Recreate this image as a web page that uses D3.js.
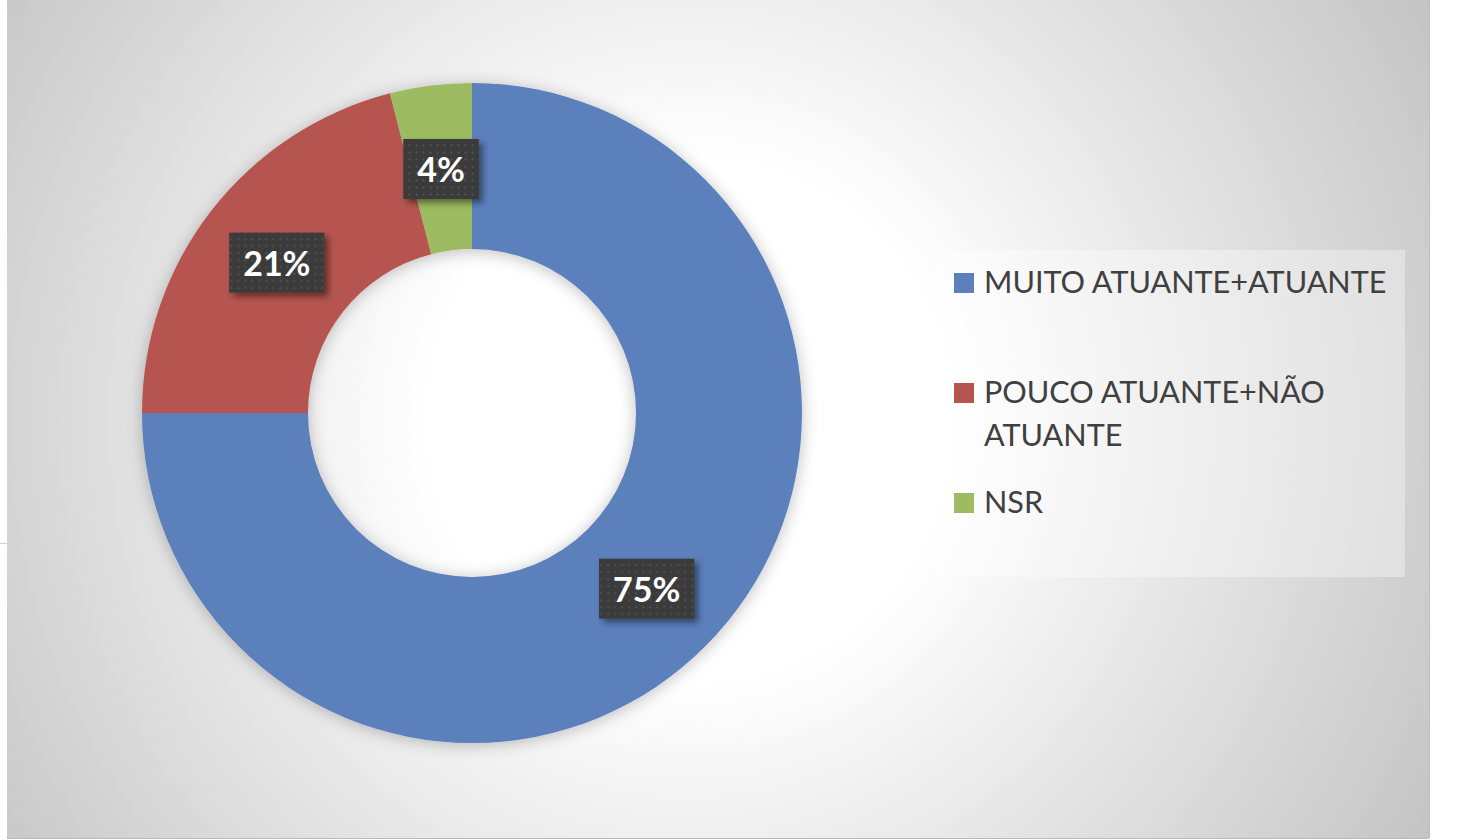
<!DOCTYPE html>
<html>
<head>
<meta charset="utf-8">
<script src="https://cdn.jsdelivr.net/npm/d3@7"></script>
<style>
  html, body { margin: 0; padding: 0; background: #fff; }
  svg { display: block; }
</style>
</head>
<body>
<svg id="chart"></svg>
<script>
var categories = ["MUITO ATUANTE+ATUANTE", "POUCO ATUANTE+NÃO ATUANTE", "NSR"]
var values = [75, 21, 4]
var labels = ["75%", "21%", "4%"]
var colors = ["#5b80bc", "#b6544f", "#9dbb61"]
// legend text broken into lines the way the reference wraps it
var legendLines = [["MUITO ATUANTE+ATUANTE"], ["POUCO ATUANTE+NÃO", "ATUANTE"], ["NSR"]]

var width = 1470
var height = 840
var cx = 472, cy = 413
var outerR = 330, innerR = 164

var svg = d3.select("#chart")
  .attr("width", width)
  .attr("height", height)

var defs = svg.append("defs")

var bg = defs.append("radialGradient")
  .attr("id", "bgGrad")
  .attr("gradientUnits", "userSpaceOnUse")
  .attr("cx", 690).attr("cy", 420).attr("r", 870)
bg.append("stop").attr("offset", "0").attr("stop-color", "#ffffff")
bg.append("stop").attr("offset", "0.3").attr("stop-color", "#ffffff")
bg.append("stop").attr("offset", "1").attr("stop-color", "#c2c2c2")

var shadow = defs.append("filter")
  .attr("id", "ringShadow")
  .attr("x", "-20%").attr("y", "-20%").attr("width", "140%").attr("height", "140%")
shadow.append("feDropShadow")
  .attr("dx", 0).attr("dy", 2)
  .attr("stdDeviation", 8)
  .attr("flood-color", "#000")
  .attr("flood-opacity", 0.25)

var boxShadow = defs.append("filter")
  .attr("id", "boxShadow")
  .attr("x", "-30%").attr("y", "-30%").attr("width", "160%").attr("height", "160%")
boxShadow.append("feDropShadow")
  .attr("dx", 4).attr("dy", 4)
  .attr("stdDeviation", 3)
  .attr("flood-color", "#000")
  .attr("flood-opacity", 0.45)

var dots = defs.append("pattern")
  .attr("id", "dots")
  .attr("patternUnits", "userSpaceOnUse")
  .attr("width", 7).attr("height", 7)
dots.append("rect").attr("width", 7).attr("height", 7).attr("fill", "#3a3a3a")
dots.append("circle").attr("cx", 3.5).attr("cy", 3.5).attr("r", 1).attr("fill", "#5a5a5a")

// chart area
svg.append("rect")
  .attr("x", 7).attr("y", 0)
  .attr("width", 1422).attr("height", 838)
  .attr("fill", "url(#bgGrad)")
svg.append("line")
  .attr("x1", 7).attr("x2", 1429).attr("y1", 838.5).attr("y2", 838.5)
  .attr("stroke", "#b8b8b8").attr("stroke-width", 1)
svg.append("line")
  .attr("x1", 1429.5).attr("x2", 1429.5).attr("y1", 0).attr("y2", 838)
  .attr("stroke", "#bdbdbd").attr("stroke-width", 1)
svg.append("line")
  .attr("x1", 0).attr("x2", 7).attr("y1", 543.5).attr("y2", 543.5)
  .attr("stroke", "#d0d0d0").attr("stroke-width", 1)

var pie = d3.pie().sort(null).value(function(d){ return d; })
var arc = d3.arc().innerRadius(innerR).outerRadius(outerR)
var arcs = pie(values)

var ring = svg.append("g")
  .attr("transform", "translate(" + cx + "," + cy + ")")

ring.append("g")
  .attr("filter", "url(#ringShadow)")
  .selectAll("path")
  .data(arcs)
  .enter()
  .append("path")
  .attr("d", arc)
  .attr("fill", function(d, i){ return colors[i]; })

// data labels
var lab = ring.selectAll(".lab")
  .data(arcs)
  .enter()
  .append("g")
  .attr("class", "lab")
  .attr("transform", function(d){
    var c = arc.centroid(d)
    return "translate(" + c[0] + "," + (c[1] + 2) + ")";
  })

lab.append("rect").attr("class", "box")
lab.append("text")
  .attr("text-anchor", "middle")
  .attr("dy", "0.35em")
  .attr("font-family", "Lato, 'Open Sans', sans-serif")
  .attr("font-weight", "bold")
  .attr("font-size", 34)
  .attr("fill", "#fff")
  .text(function(d, i){ return labels[i]; })

lab.each(function(){
  var g = d3.select(this)
  var w = g.select("text").node().getComputedTextLength() + 28
  var h = 60
  g.select("rect")
    .attr("x", -w / 2).attr("y", -h / 2 - 1)
    .attr("width", w).attr("height", h)
    .attr("fill", "url(#dots)")
    .attr("filter", "url(#boxShadow)")
})

// legend
var legend = svg.append("g")
legend.append("rect")
  .attr("x", 936).attr("y", 250)
  .attr("width", 469).attr("height", 327)
  .attr("fill", "#ffffff").attr("fill-opacity", 0.35)

var rowY = [293, 403, 513]
var item = legend.selectAll(".item")
  .data(categories)
  .enter()
  .append("g")
  .attr("class", "item")

item.append("rect")
  .attr("x", 954)
  .attr("y", function(d, i){ return rowY[i] - 20; })
  .attr("width", 20).attr("height", 20)
  .attr("fill", function(d, i){ return colors[i]; })

item.append("text")
  .attr("x", 984)
  .attr("y", function(d, i){ return rowY[i]; })
  .attr("font-family", "Lato, 'Open Sans', sans-serif")
  .attr("font-size", 30.6)
  .attr("fill", "#404040")
  .each(function(d, i){
    var t = d3.select(this)
    legendLines[i].forEach(function(line, j){
      t.append("tspan")
        .attr("x", 984)
        .attr("dy", j === 0 ? 0 : 43)
        .text(line)
    })
  })
</script>
</body>
</html>
